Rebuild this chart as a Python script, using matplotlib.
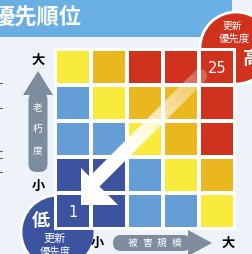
import numpy as np
import matplotlib
matplotlib.use("Agg")
import matplotlib.pyplot as plt
from matplotlib.patches import Rectangle, Circle, Polygon, FancyBboxPatch

plt.rcParams['font.family'] = ['Noto Sans CJK JP', 'DejaVu Sans']

# ---- data ----
title = "優先順位"
x_label = "被害規模"          # damage scale (columns, left->right small->large)
y_label = "老朽度"            # deterioration (rows, bottom->top small->large)
# priority level per cell, rows from bottom (aging small) to top (aging large)
levels = [
    [0, 0, 1, 1, 2],
    [0, 0, 1, 2, 3],
    [1, 1, 2, 3, 4],
    [1, 2, 3, 3, 4],
    [2, 3, 4, 4, 4],
]
level_colors = ["#3C54A0", "#659ED6", "#F9EB3C", "#EBB71E", "#D0321E"]
corner_labels = [(0, 0, "1"), (4, 4, "25")]   # (col, row, text)
low_text, high_text = "低", "高"
circle_caption = ["更新", "優先度"]

W, H = 253, 254
BG = "#EEF3FA"
GRAY = "#7D8D9D"

fig = plt.figure(figsize=(W / 100, H / 100), dpi=100)
fig.patch.set_facecolor(BG)

# pixel-coordinate overlay (bottom layer)
ax = fig.add_axes([0, 0, 1, 1])
ax.set_xlim(0, W)
ax.set_ylim(H, 0)
ax.axis("off")
ax.set_zorder(0)

# title bar
ax.add_patch(Rectangle((0, 0), 232, 36.7, facecolor="#6AAFE3", edgecolor="none", zorder=1))
ax.text(81.5, 17, title, color="white", fontsize=16, fontweight="bold",
        ha="right", va="center", zorder=2)

# circles
ax.add_patch(Circle((236, 48), 36, facecolor="#D0321E", edgecolor="white", lw=2, zorder=3))
ax.add_patch(Circle((58, 232), 37, facecolor="#3C54A0", edgecolor="white", lw=2, zorder=3))
ax.text(232, 26, circle_caption[0], color="white", fontsize=7, ha="center", va="center", zorder=4)
ax.text(234, 38.5, circle_caption[1], color="white", fontsize=7.5, ha="center", va="center", zorder=4)
ax.text(252, 58, high_text, color="white", fontsize=13, fontweight="bold", ha="center", va="center", zorder=4)
ax.text(41, 221, low_text, color="white", fontsize=13, fontweight="bold", ha="center", va="center", zorder=4)
ax.text(54.5, 239, circle_caption[0], color="white", fontsize=8, ha="center", va="center", zorder=4)
ax.text(55, 251.5, circle_caption[1], color="white", fontsize=7.5, ha="center", va="center", zorder=4)

# vertical gray arrow (aging)
vx = 38
ax.add_patch(FancyBboxPatch((vx - 9.5, 92), 19, 80, boxstyle="round,pad=0,rounding_size=8",
                            facecolor=GRAY, edgecolor="none", zorder=2))
ax.add_patch(Polygon([(vx - 15, 95), (vx, 71), (vx + 15, 95)], closed=True,
                     facecolor=GRAY, edgecolor="none", zorder=2))
for ch, yy in zip(y_label, [108, 129, 150]):
    ax.text(vx, yy, ch, color="white", fontsize=7, ha="center", va="center", zorder=3)
ax.text(vx, 60, "大", color="black", fontsize=9.5, fontweight="bold", ha="center", va="center", zorder=3)
ax.text(vx, 186, "小", color="black", fontsize=9.5, fontweight="bold", ha="center", va="center", zorder=3)

# horizontal gray arrow (damage)
hy = 243
ax.add_patch(FancyBboxPatch((113, hy - 8), 78, 16, boxstyle="round,pad=0,rounding_size=8",
                            facecolor=GRAY, edgecolor="none", zorder=2))
ax.add_patch(Polygon([(188, hy - 13), (212, hy), (188, hy + 13)], closed=True,
                     facecolor=GRAY, edgecolor="none", zorder=2))
for ch, xx in zip(x_label, [133, 147.5, 162, 176.5]):
    ax.text(xx, hy, ch, color="white", fontsize=7, ha="center", va="center", zorder=3)
ax.text(97, hy, "小", color="black", fontsize=9.5, fontweight="bold", ha="center", va="center", zorder=3)
ax.text(228, hy, "大", color="black", fontsize=9.5, fontweight="bold", ha="center", va="center", zorder=3)

# tiny marks at the left edge
for yy in [83, 108, 151, 158, 172]:
    ax.plot([0, 2], [yy, yy], color="#667", lw=0.8, zorder=2)

# ---- grid axes ----
pad = 1 / 36
gx0, gx1, gy0, gy1 = 54, 236, 48, 230
gax = fig.add_axes([gx0 / W, 1 - gy1 / H, (gx1 - gx0) / W, (gy1 - gy0) / H])
gax.set_zorder(1)
gax.set_facecolor("white")
gax.set_xlim(-pad, 5 + pad)
gax.set_ylim(-pad, 5 + pad)
gax.set_xticks([]); gax.set_yticks([])
for s in gax.spines.values():
    s.set_visible(False)
g = 2 / 36
for r, row in enumerate(levels):
    for c, lv in enumerate(row):
        gax.add_patch(Rectangle((c + g, r + g), 1 - 2 * g, 1 - 2 * g,
                                facecolor=level_colors[lv], edgecolor="none"))
for c, r, t in corner_labels:
    gax.text(c + 0.5, r + 0.45, t, color="white", fontsize=10.5, ha="center", va="center",
             family=["DejaVu Sans"])

# ---- top overlay: diagonal arrow ----
tax = fig.add_axes([0, 0, 1, 1])
tax.set_zorder(2)
tax.patch.set_alpha(0)
tax.set_xlim(0, W)
tax.set_ylim(H, 0)
tax.axis("off")

C = np.array([200.0, 76.0])
ang = np.radians(np.linspace(-135, 45, 20))
cap = [(C[0] + 7.07 * np.cos(a), C[1] + 7.07 * np.sin(a)) for a in ang]
verts = [(81, 205), (81, 168), (89.5, 176.5)] + cap + [(99.5, 186.5), (118, 205)]
poly = Polygon(verts, closed=True, facecolor="none", edgecolor="none", transform=tax.transData)
tax.add_patch(poly)

ex = (70, 220, 215, 60)
xs = np.linspace(ex[0], ex[1], 300)
ys = np.linspace(ex[3], ex[2], 310)
X, Y = np.meshgrid(xs, ys)
s = X - Y
alpha = np.clip(1 - (s + 20) / 144 * 0.75, 0.25, 1.0)
img = np.ones((len(ys), len(xs), 4))
img[..., 3] = alpha
im = tax.imshow(img, extent=ex, origin="upper", interpolation="bilinear", aspect="auto", zorder=5)
im.set_clip_path(poly)
tax.set_xlim(0, W)
tax.set_ylim(H, 0)

fig.savefig("out.png", dpi=100, facecolor=BG)
